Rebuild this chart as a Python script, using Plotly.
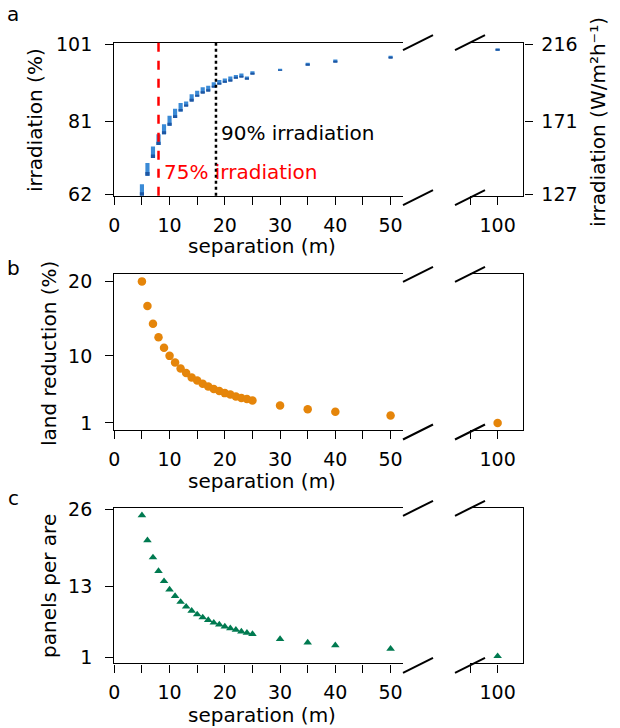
import plotly.graph_objects as go

W, H = 620, 728

# ---------------- data ----------------
separation = [5, 6, 7, 8, 9, 10, 11, 12, 13, 14, 15, 16, 17, 18, 19, 20,
              21, 22, 23, 24, 25, 30, 35, 40, 50, 100]
irr_low = [61.6, 66.8, 71.4, 74.8, 77.6, 79.8, 81.8, 83.5, 85.0, 86.3, 87.4,
           88.3, 88.9, 89.8, 90.6, 91.0, 91.5, 92.1, 92.5, 91.9, 93.2, 94.2,
           95.5, 96.3, 97.4, 99.5]
irr_high = [64.6, 70.1, 74.4, 77.6, 80.2, 82.4, 84.2, 85.7, 86.1, 88.0, 88.9,
            89.8, 90.2, 91.1, 91.7, 92.1, 92.6, 93.0, 93.4, 92.6, 94.0, 94.6,
            96.2, 97.0, 98.0, 99.9]
land_reduction = [20.0, 16.7, 14.3, 12.5, 11.1, 10.0, 9.1, 8.3, 7.7, 7.1, 6.7,
                  6.25, 5.9, 5.55, 5.3, 5.0, 4.8, 4.55, 4.35, 4.2, 4.0, 3.35,
                  2.85, 2.5, 2.0, 1.0]
panels_per_are = [25.0, 20.8, 17.9, 15.6, 13.9, 12.5, 11.4, 10.4, 9.6, 8.9,
                  8.3, 7.8, 7.35, 6.9, 6.6, 6.25, 5.95, 5.7, 5.4, 5.2, 5.0,
                  4.15, 3.55, 3.1, 2.5, 1.25]
line_75 = 8.0
line_90 = 18.4

irr_ticks = [62, 81, 101]
irr_wm2_labels = ["127", "171", "216"]
land_ticks = [1, 10, 20]
panel_ticks = [1, 13, 26]
x_ticks_left = [0, 5, 10, 15, 20, 25, 30, 35, 40, 45, 50]
x_ticks_right = [95, 100]

FONT = "DejaVu Sans"
FS = 20
TFS = 19
BLUE_L = "#3a8ad6"
BLUE_D = "#1d56a3"
ORANGE = "#e5850a"
GREEN = "#007a50"

def px(x):
    return x / W

def py(y):
    return 1 - y / H

XL = [px(114.3), px(403.3)]
XR = [px(470), px(523.3)]
YA = [py(195.7), py(42.7)]
YB = [py(430), py(274.3)]
YC = [py(663.3), py(508.3)]
RANGE_L = [0, 52.3]
RANGE_R = [95, 104.65]
RA = [61.6, 101.4]
RB = [0.05, 20.95]
RC = [0.06, 26.19]

left_idx = [i for i, s in enumerate(separation) if s <= RANGE_L[1]]
right_idx = [i for i, s in enumerate(separation) if s >= RANGE_R[0]]

fig = go.Figure()

def sub(lst, idx):
    return [lst[i] for i in idx]

# panel a bars (ranges of irradiation)
for idx, xa, ya in [(left_idx, "x", "y"), (right_idx, "x2", "y2")]:
    xs = sub(separation, idx)
    lo = sub(irr_low, idx)
    hi = sub(irr_high, idx)
    fig.add_trace(go.Bar(x=xs, y=[h - l for h, l in zip(hi, lo)], base=lo,
                         width=0.75, marker=dict(color=BLUE_L, line=dict(width=0)),
                         xaxis=xa, yaxis=ya, showlegend=False))
    fig.add_trace(go.Bar(x=xs, y=[0.3 * (h - l) for h, l in zip(hi, lo)], base=lo,
                         width=0.75, marker=dict(color=BLUE_D, line=dict(width=0)),
                         xaxis=xa, yaxis=ya, showlegend=False))

# panel b
for idx, xa, ya in [(left_idx, "x3", "y3"), (right_idx, "x4", "y4")]:
    fig.add_trace(go.Scatter(x=sub(separation, idx), y=sub(land_reduction, idx),
                             mode="markers", marker=dict(color=ORANGE, size=8.5),
                             xaxis=xa, yaxis=ya, showlegend=False, cliponaxis=False))
# panel c
for idx, xa, ya in [(left_idx, "x5", "y5"), (right_idx, "x6", "y6")]:
    fig.add_trace(go.Scatter(x=sub(separation, idx), y=sub(panels_per_are, idx),
                             mode="markers",
                             marker=dict(color=GREEN, size=7.5, symbol="triangle-up"),
                             xaxis=xa, yaxis=ya, showlegend=False, cliponaxis=False))

axis_common = dict(showgrid=False, zeroline=False, showline=True, linecolor="black",
                   linewidth=1.4, ticks="outside", ticklen=8, tickwidth=1.3,
                   tickcolor="black", tickfont=dict(family=FONT, size=TFS, color="black"),
                   automargin=False, fixedrange=True)

lbl_left = [str(t) if t % 10 == 0 else "" for t in x_ticks_left]
lbl_right = ["" if t != 100 else "100" for t in x_ticks_right]

layout = dict(width=W, height=H, margin=dict(l=0, r=0, t=0, b=0),
              plot_bgcolor="white", paper_bgcolor="white", barmode="overlay",
              font=dict(family=FONT, size=FS, color="black"), showlegend=False)

for ln, ydom, yr, yt in [(1, YA, RA, irr_ticks), (3, YB, RB, land_ticks),
                         (5, YC, RC, panel_ticks)]:
    rn = ln + 1
    sfx = "" if ln == 1 else str(ln)
    layout["xaxis" + sfx] = dict(axis_common, domain=XL, range=RANGE_L, anchor="y" + sfx,
                                 mirror=True, tickvals=x_ticks_left, ticktext=lbl_left,
                                 ticklabelstandoff=4)
    layout["yaxis" + sfx] = dict(axis_common, domain=ydom, range=yr, anchor="x" + sfx,
                                 tickvals=yt, ticktext=[str(t) for t in yt],
                                 ticklabelstandoff=9)
    layout["xaxis" + str(rn)] = dict(axis_common, domain=XR, range=RANGE_R,
                                     anchor="y" + str(rn), mirror=True,
                                     tickvals=x_ticks_right, ticktext=lbl_right,
                                     ticklabelstandoff=4)
    if ln == 1:
        layout["yaxis" + str(rn)] = dict(axis_common, domain=ydom, range=yr,
                                         anchor="x" + str(rn), side="right",
                                         tickvals=yt, ticktext=irr_wm2_labels,
                                         ticklabelstandoff=5)
    else:
        layout["yaxis" + str(rn)] = dict(axis_common, domain=ydom, range=yr,
                                         anchor="x" + str(rn), side="right",
                                         ticks="", showticklabels=False)

fig.update_layout(**layout)

shapes = []
# reference lines in panel a
shapes.append(dict(type="line", xref="x", yref="y domain", x0=line_75, x1=line_75,
                   y0=0, y1=1, line=dict(color="red", width=2.5, dash="dash")))
shapes.append(dict(type="line", xref="x", yref="y domain", x0=line_90, x1=line_90,
                   y0=0, y1=1, line=dict(color="black", width=2.5, dash="dot")))
# axis break marks
for top, bot in [(42.7, 195.7), (274.3, 430), (508.3, 663.3)]:
    for yc in (top, bot + 2):
        for xc in (418, 470):
            shapes.append(dict(type="line", xref="paper", yref="paper",
                               x0=px(xc - 15), x1=px(xc + 15),
                               y0=py(yc + 7.5), y1=py(yc - 7.5),
                               line=dict(color="black", width=2)))
fig.update_layout(shapes=shapes)

ann = []
def text(x, y, s, angle=0, color="black", xanchor="center", size=FS):
    ann.append(dict(x=px(x), y=py(y), xref="paper", yref="paper", text=s,
                    showarrow=False, textangle=angle, xanchor=xanchor, yanchor="middle",
                    font=dict(family=FONT, size=size, color=color)))

text(219, 133, "90% irradiation", xanchor="left")
text(162, 172, "75% irradiation", color="red", xanchor="left")
text(35, 120, "irradiation (%)", angle=-90)
text(598, 122, "irradiation (W/m²h⁻¹)", angle=-90)
text(49, 353, "land reduction (%)", angle=-90)
text(49, 586, "panels per are", angle=-90)
for yb in (246, 481, 715):
    text(262, yb, "separation (m)")
text(13, 14, "a")
text(13, 268, "b")
text(13, 498, "c")
fig.update_layout(annotations=ann)

fig.write_html("out.html")
